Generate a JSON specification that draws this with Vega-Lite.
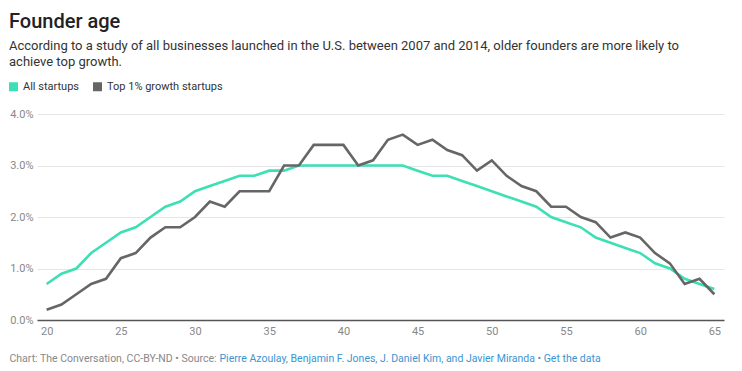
{
  "$schema": "https://vega.github.io/schema/vega-lite/v6.json",
  "autosize": "none",
  "width": 687,
  "height": 206,
  "padding": {"left": 37, "top": 114, "right": 18, "bottom": 51},
  "background": "white",
  "config": {
    "font": "Roboto",
    "view": {"stroke": null}
  },
  "title": {
    "text": "Founder age",
    "subtitle": ["According to a study of all businesses launched in the U.S. between 2007 and 2014, older founders are more likely to", "achieve top growth."],
    "anchor": "start",
    "frame": "group",
    "dx": -28,
    "font": "Roboto",
    "fontSize": 20,
    "fontWeight": 500,
    "color": "#222222",
    "subtitleFont": "Roboto",
    "subtitleFontSize": 13,
    "subtitleColor": "#333333",
    "subtitleLineHeight": 16,
    "subtitlePadding": 8,
    "offset": 12
  },
  "data": {
    "values": [
      {"age": 20, "group": "All startups", "share": 0.7},
      {"age": 21, "group": "All startups", "share": 0.9},
      {"age": 22, "group": "All startups", "share": 1.0},
      {"age": 23, "group": "All startups", "share": 1.3},
      {"age": 24, "group": "All startups", "share": 1.5},
      {"age": 25, "group": "All startups", "share": 1.7},
      {"age": 26, "group": "All startups", "share": 1.8},
      {"age": 27, "group": "All startups", "share": 2.0},
      {"age": 28, "group": "All startups", "share": 2.2},
      {"age": 29, "group": "All startups", "share": 2.3},
      {"age": 30, "group": "All startups", "share": 2.5},
      {"age": 31, "group": "All startups", "share": 2.6},
      {"age": 32, "group": "All startups", "share": 2.7},
      {"age": 33, "group": "All startups", "share": 2.8},
      {"age": 34, "group": "All startups", "share": 2.8},
      {"age": 35, "group": "All startups", "share": 2.9},
      {"age": 36, "group": "All startups", "share": 2.9},
      {"age": 37, "group": "All startups", "share": 3.0},
      {"age": 38, "group": "All startups", "share": 3.0},
      {"age": 39, "group": "All startups", "share": 3.0},
      {"age": 40, "group": "All startups", "share": 3.0},
      {"age": 41, "group": "All startups", "share": 3.0},
      {"age": 42, "group": "All startups", "share": 3.0},
      {"age": 43, "group": "All startups", "share": 3.0},
      {"age": 44, "group": "All startups", "share": 3.0},
      {"age": 45, "group": "All startups", "share": 2.9},
      {"age": 46, "group": "All startups", "share": 2.8},
      {"age": 47, "group": "All startups", "share": 2.8},
      {"age": 48, "group": "All startups", "share": 2.7},
      {"age": 49, "group": "All startups", "share": 2.6},
      {"age": 50, "group": "All startups", "share": 2.5},
      {"age": 51, "group": "All startups", "share": 2.4},
      {"age": 52, "group": "All startups", "share": 2.3},
      {"age": 53, "group": "All startups", "share": 2.2},
      {"age": 54, "group": "All startups", "share": 2.0},
      {"age": 55, "group": "All startups", "share": 1.9},
      {"age": 56, "group": "All startups", "share": 1.8},
      {"age": 57, "group": "All startups", "share": 1.6},
      {"age": 58, "group": "All startups", "share": 1.5},
      {"age": 59, "group": "All startups", "share": 1.4},
      {"age": 60, "group": "All startups", "share": 1.3},
      {"age": 61, "group": "All startups", "share": 1.1},
      {"age": 62, "group": "All startups", "share": 1.0},
      {"age": 63, "group": "All startups", "share": 0.8},
      {"age": 64, "group": "All startups", "share": 0.7},
      {"age": 65, "group": "All startups", "share": 0.6},
      {"age": 20, "group": "Top 1% growth startups", "share": 0.2},
      {"age": 21, "group": "Top 1% growth startups", "share": 0.3},
      {"age": 22, "group": "Top 1% growth startups", "share": 0.5},
      {"age": 23, "group": "Top 1% growth startups", "share": 0.7},
      {"age": 24, "group": "Top 1% growth startups", "share": 0.8},
      {"age": 25, "group": "Top 1% growth startups", "share": 1.2},
      {"age": 26, "group": "Top 1% growth startups", "share": 1.3},
      {"age": 27, "group": "Top 1% growth startups", "share": 1.6},
      {"age": 28, "group": "Top 1% growth startups", "share": 1.8},
      {"age": 29, "group": "Top 1% growth startups", "share": 1.8},
      {"age": 30, "group": "Top 1% growth startups", "share": 2.0},
      {"age": 31, "group": "Top 1% growth startups", "share": 2.3},
      {"age": 32, "group": "Top 1% growth startups", "share": 2.2},
      {"age": 33, "group": "Top 1% growth startups", "share": 2.5},
      {"age": 34, "group": "Top 1% growth startups", "share": 2.5},
      {"age": 35, "group": "Top 1% growth startups", "share": 2.5},
      {"age": 36, "group": "Top 1% growth startups", "share": 3.0},
      {"age": 37, "group": "Top 1% growth startups", "share": 3.0},
      {"age": 38, "group": "Top 1% growth startups", "share": 3.4},
      {"age": 39, "group": "Top 1% growth startups", "share": 3.4},
      {"age": 40, "group": "Top 1% growth startups", "share": 3.4},
      {"age": 41, "group": "Top 1% growth startups", "share": 3.0},
      {"age": 42, "group": "Top 1% growth startups", "share": 3.1},
      {"age": 43, "group": "Top 1% growth startups", "share": 3.5},
      {"age": 44, "group": "Top 1% growth startups", "share": 3.6},
      {"age": 45, "group": "Top 1% growth startups", "share": 3.4},
      {"age": 46, "group": "Top 1% growth startups", "share": 3.5},
      {"age": 47, "group": "Top 1% growth startups", "share": 3.3},
      {"age": 48, "group": "Top 1% growth startups", "share": 3.2},
      {"age": 49, "group": "Top 1% growth startups", "share": 2.9},
      {"age": 50, "group": "Top 1% growth startups", "share": 3.1},
      {"age": 51, "group": "Top 1% growth startups", "share": 2.8},
      {"age": 52, "group": "Top 1% growth startups", "share": 2.6},
      {"age": 53, "group": "Top 1% growth startups", "share": 2.5},
      {"age": 54, "group": "Top 1% growth startups", "share": 2.2},
      {"age": 55, "group": "Top 1% growth startups", "share": 2.2},
      {"age": 56, "group": "Top 1% growth startups", "share": 2.0},
      {"age": 57, "group": "Top 1% growth startups", "share": 1.9},
      {"age": 58, "group": "Top 1% growth startups", "share": 1.6},
      {"age": 59, "group": "Top 1% growth startups", "share": 1.7},
      {"age": 60, "group": "Top 1% growth startups", "share": 1.6},
      {"age": 61, "group": "Top 1% growth startups", "share": 1.3},
      {"age": 62, "group": "Top 1% growth startups", "share": 1.1},
      {"age": 63, "group": "Top 1% growth startups", "share": 0.7},
      {"age": 64, "group": "Top 1% growth startups", "share": 0.8},
      {"age": 65, "group": "Top 1% growth startups", "share": 0.5}
    ]
  },
  "mark": {"type": "line", "strokeWidth": 2.6, "clip": false},
  "encoding": {
    "x": {
      "field": "age",
      "type": "quantitative",
      "scale": {"domain": [19.35, 65.65], "nice": false, "zero": false},
      "axis": {
        "values": [20, 25, 30, 35, 40, 45, 50, 55, 60, 65],
        "grid": false,
        "ticks": false,
        "domain": true,
        "domainColor": "#555555",
        "domainWidth": 1.6,
        "labelFont": "Roboto",
        "labelFontSize": 11,
        "labelColor": "#888888",
        "labelPadding": 5,
        "title": "Chart: The Conversation, CC-BY-ND • Source:",
        "titleFont": "Roboto",
        "titleFontSize": 10.5,
        "titleFontWeight": "normal",
        "titleColor": "#888888",
        "titleAnchor": "start",
        "titleAlign": "left",
        "titleBaseline": "alphabetic",
        "titleX": -28,
        "titleY": 41
      }
    },
    "y": {
      "field": "share",
      "type": "quantitative",
      "scale": {"domain": [0, 4], "nice": false},
      "axis": {
        "values": [0, 1, 2, 3, 4],
        "labelExpr": "format(datum.value, '.1f') + '%'",
        "grid": true,
        "gridColor": "#e6e6e6",
        "gridWidth": 1,
        "ticks": false,
        "domain": false,
        "labelFont": "Roboto",
        "labelFontSize": 11,
        "labelColor": "#888888",
        "labelPadding": 4,
        "title": "Pierre Azoulay, Benjamin F. Jones, J. Daniel Kim, and Javier Miranda • Get the data",
        "titleFont": "Roboto",
        "titleFontSize": 10.5,
        "titleFontWeight": "normal",
        "titleColor": "#3d94d1",
        "titleAngle": 0,
        "titleAlign": "left",
        "titleBaseline": "alphabetic",
        "titleX": 182,
        "titleY": 247
      }
    },
    "color": {
      "field": "group",
      "type": "nominal",
      "scale": {"domain": ["All startups", "Top 1% growth startups"], "range": ["#3ddfb4", "#666666"]},
      "legend": {
        "title": null,
        "orient": "none",
        "legendX": -29,
        "legendY": -33,
        "direction": "horizontal",
        "symbolType": "square",
        "symbolSize": 81,
        "symbolStrokeWidth": 0,
        "labelFont": "Roboto",
        "labelFontSize": 11,
        "labelColor": "#333333",
        "labelOffset": 4,
        "columnPadding": 12,
        "encode": {
          "symbols": {"update": {"fill": {"scale": "color", "field": "value"}, "strokeWidth": {"value": 0}}}
        }
      }
    }
  }
}
